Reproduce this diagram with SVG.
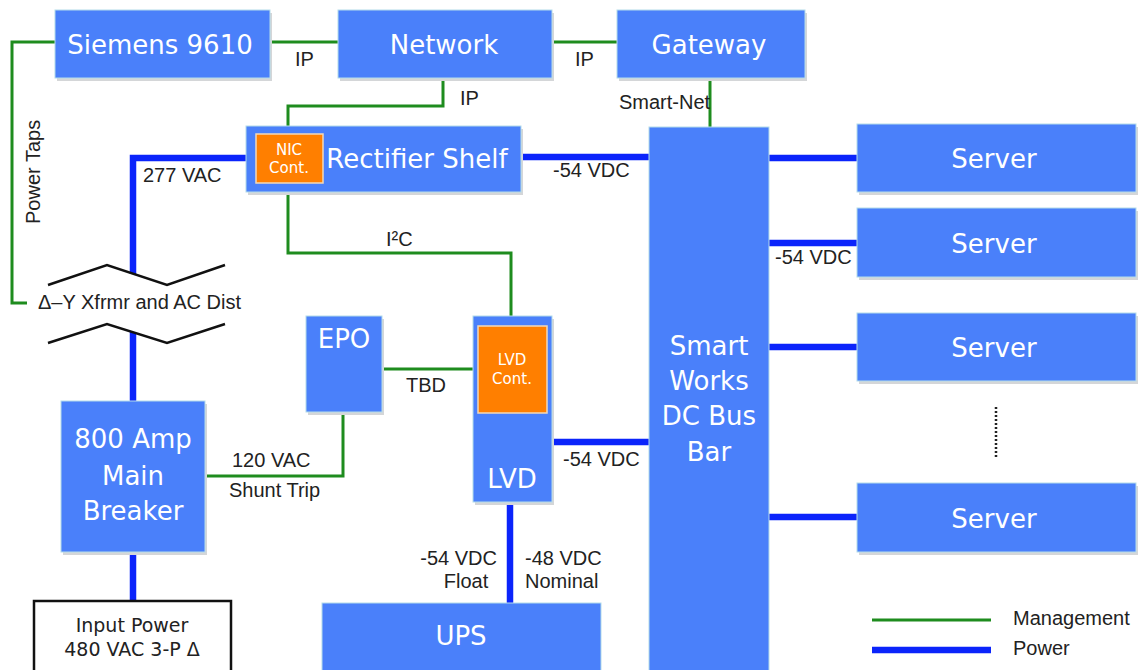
<svg xmlns="http://www.w3.org/2000/svg" width="1147" height="670" viewBox="0 0 1147 670">
<style>
.box{fill:#4A80FA;stroke:#B4DCEA;stroke-width:1}
.sh{fill:#D4D6D8}
.ctl{fill:#FF7F00;stroke:#F3D9B8;stroke-width:1.5}
.bt{font-family:"DejaVu Sans",Verdana,sans-serif;font-size:26px;fill:#fff;text-anchor:middle}
.st{font-family:"DejaVu Sans",Verdana,sans-serif;font-size:15px;fill:#fff;text-anchor:middle}
.lb{font-family:"Liberation Sans",Arial,sans-serif;font-size:20px;fill:#222}
.mg{fill:none;stroke:#1E8C1E;stroke-width:3}
.pw{fill:none;stroke:#0B24FB;stroke-width:6.5}
.zz{fill:none;stroke:#111;stroke-width:2.5}
</style>
<rect width="1147" height="670" fill="#fff"/>
<g id="connectors">
<path class="mg" d="M55,42 H12 V303 H27"/>
<path class="mg" d="M270,42 H338"/>
<path class="mg" d="M552,42 H617"/>
<path class="mg" d="M443,78 V106 H288 V134"/>
<path class="mg" d="M288,183 V253 H511 V326"/>
<path class="mg" d="M710,78 V127"/>
<path class="mg" d="M382,369 H478"/>
<path class="mg" d="M205,476 H343 V412"/>
<path class="pw" d="M246,158 H133 V274"/>
<path class="pw" d="M133,332 V401"/>
<path class="pw" d="M133,552 V600"/>
<path class="pw" d="M521,157 H649"/>
<path class="pw" d="M552,442 H649"/>
<path class="pw" d="M510,502 V603"/>
<path class="pw" d="M769,158 H857"/>
<path class="pw" d="M769,243 H857"/>
<path class="pw" d="M769,347 H857"/>
<path class="pw" d="M769,517 H857"/>
<path fill="none" stroke="#222" stroke-width="2.5" stroke-dasharray="2,2" d="M996,407 V458"/>
</g>
<g id="labels">
<text class="lb" x="295" y="66">IP</text>
<text class="lb" x="575" y="66">IP</text>
<text class="lb" x="460" y="105">IP</text>
<text class="lb" x="619" y="109">Smart-Net</text>
<text class="lb" x="143" y="182">277 VAC</text>
<text class="lb" x="553" y="177">-54 VDC</text>
<text class="lb" x="386" y="246">I²C</text>
<text class="lb" x="406" y="392">TBD</text>
<text class="lb" x="232" y="467">120 VAC</text>
<text class="lb" x="229" y="497">Shunt Trip</text>
<text class="lb" x="563" y="466">-54 VDC</text>
<text class="lb" x="497" y="565" text-anchor="end">-54 VDC</text>
<text class="lb" x="466" y="588" text-anchor="middle">Float</text>
<text class="lb" x="525" y="565">-48 VDC</text>
<text class="lb" x="525" y="588">Nominal</text>
<text class="lb" x="775" y="264">-54 VDC</text>
<text class="lb" transform="translate(40,224) rotate(-90)">Power Taps</text>
</g>
<g id="xfrmr">
<polyline class="zz" points="48,285 107,265 167,285 225,265"/>
<polyline class="zz" points="48,343 107,324 167,343 225,324"/>
<text class="lb" x="38" y="309">Δ–Y Xfrmr and AC Dist</text>
</g>
<g id="siemens">
<rect class="sh" x="57" y="13" width="215" height="68"/>
<rect class="box" x="55" y="10" width="215" height="68"/>
<text class="bt" x="160" y="54">Siemens 9610</text>
</g>
<g id="network">
<rect class="sh" x="340" y="13" width="214" height="68"/>
<rect class="box" x="338" y="10" width="214" height="68"/>
<text class="bt" x="444" y="54">Network</text>
</g>
<g id="gateway">
<rect class="sh" x="619" y="13" width="188" height="68"/>
<rect class="box" x="617" y="10" width="188" height="68"/>
<text class="bt" x="709" y="54">Gateway</text>
</g>
<g id="rectifier">
<rect class="sh" x="248" y="129" width="275" height="66"/>
<rect class="box" x="246" y="126" width="275" height="66"/>
<text class="bt" x="417" y="168">Rectifier Shelf</text>
</g>
<g id="nic">
<rect class="ctl" x="256" y="134" width="67" height="49"/>
<text class="st" x="289" y="155">NIC</text>
<text class="st" x="289" y="173">Cont.</text>
</g>
<g id="busbar">
<rect class="box" x="649" y="127" width="120" height="560"/>
<text class="bt" x="709" y="355">Smart</text>
<text class="bt" x="709" y="390">Works</text>
<text class="bt" x="709" y="425">DC Bus</text>
<text class="bt" x="709" y="461">Bar</text>
</g>
<g id="server1">
<rect class="sh" x="859" y="127" width="279" height="68"/>
<rect class="box" x="857" y="124" width="279" height="68"/>
<text class="bt" x="994" y="168">Server</text>
</g>
<g id="server2">
<rect class="sh" x="859" y="211" width="279" height="69"/>
<rect class="box" x="857" y="208" width="279" height="69"/>
<text class="bt" x="994" y="253">Server</text>
</g>
<g id="server3">
<rect class="sh" x="859" y="316" width="279" height="68"/>
<rect class="box" x="857" y="313" width="279" height="68"/>
<text class="bt" x="994" y="357">Server</text>
</g>
<g id="server4">
<rect class="sh" x="859" y="486" width="279" height="69"/>
<rect class="box" x="857" y="483" width="279" height="69"/>
<text class="bt" x="994" y="528">Server</text>
</g>
<g id="epo">
<rect class="sh" x="308" y="319" width="76" height="96"/>
<rect class="box" x="306" y="316" width="76" height="96"/>
<text class="bt" x="344" y="348">EPO</text>
</g>
<g id="lvd">
<rect class="sh" x="475" y="319" width="79" height="186"/>
<rect class="box" x="473" y="316" width="79" height="186"/>
<text class="bt" x="512" y="488">LVD</text>
</g>
<g id="lvdcont">
<rect class="ctl" x="478" y="326" width="69" height="87"/>
<text class="st" x="512" y="365">LVD</text>
<text class="st" x="512" y="384">Cont.</text>
</g>
<g id="breaker">
<rect class="sh" x="63" y="404" width="144" height="151"/>
<rect class="box" x="61" y="401" width="144" height="151"/>
<text class="bt" x="133" y="448">800 Amp</text>
<text class="bt" x="133" y="485">Main</text>
<text class="bt" x="133" y="520">Breaker</text>
</g>
<g id="input">
<rect x="34" y="601" width="197" height="90" fill="#fff" stroke="#111" stroke-width="2.5"/>
<text x="132" y="632" text-anchor="middle" font-family="DejaVu Sans,Verdana,sans-serif" font-size="19" fill="#222">Input Power</text>
<text x="132" y="656" text-anchor="middle" font-family="DejaVu Sans,Verdana,sans-serif" font-size="19" fill="#222">480 VAC 3-P Δ</text>
</g>
<g id="ups">
<rect class="box" x="322" y="603" width="279" height="80"/>
<text class="bt" x="461" y="645">UPS</text>
</g>
<g id="legend">
<path class="mg" d="M872,620 H991"/>
<path class="pw" d="M872,650 H991"/>
<text class="lb" x="1013" y="625">Management</text>
<text class="lb" x="1013" y="655">Power</text>
</g>
</svg>
